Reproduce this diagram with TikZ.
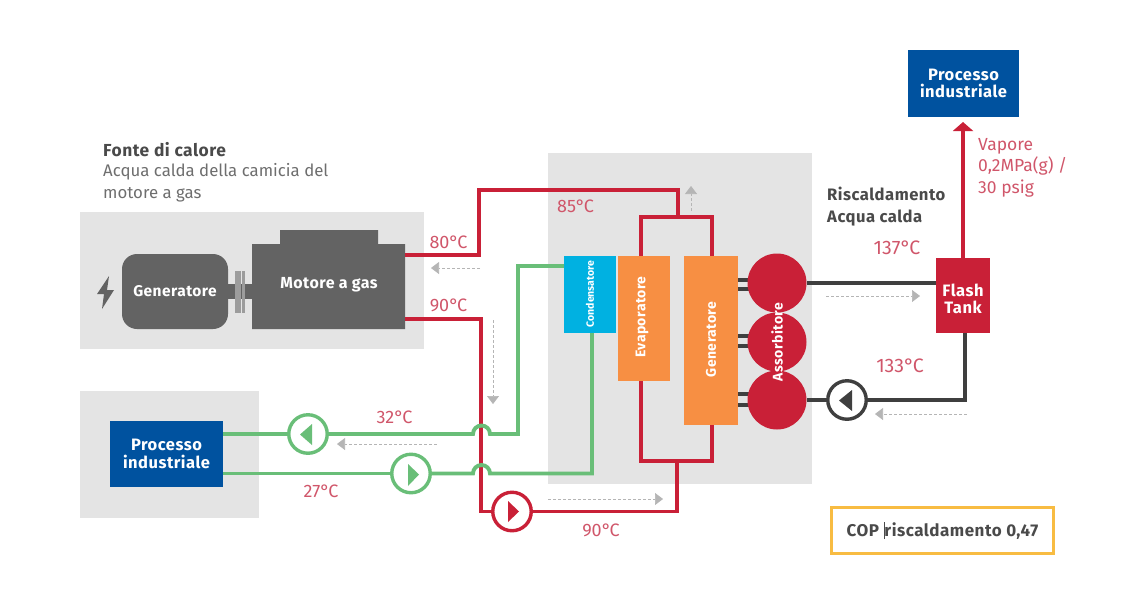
\documentclass[tikz,border=0pt]{standalone}
\usepackage{fontspec}
\setmainfont{Fira Sans}
\newfontfamily\spaced{Fira Sans}[LetterSpace=3]
\usetikzlibrary{arrows.meta}
\definecolor{panel}{HTML}{E4E4E4}
\definecolor{dk}{HTML}{636363}
\definecolor{pipeblack}{HTML}{3F3F3F}
\definecolor{rd}{HTML}{C92037}
\definecolor{rdtext}{HTML}{D0566A}
\definecolor{grn}{HTML}{69BE78}
\definecolor{blu}{HTML}{00529F}
\definecolor{cya}{HTML}{00B1E1}
\definecolor{org}{HTML}{F78F43}
\definecolor{yel}{HTML}{F8BC42}
\definecolor{txt}{HTML}{4A4A4A}
\definecolor{txtg}{HTML}{6E6E6E}
\definecolor{flow}{HTML}{B5B5B5}
\newcommand{\dg}{°\kern-1.5pt}
\tikzset{
 x=1pt,y=-1pt,
 blockbox/.style={draw=none,align=center,text=white,inner sep=0pt,font=\fontsize{16.5}{17.5}\spaced\bfseries},
 vlabel/.style={rotate=90,text=white,inner sep=0pt,font=\fontsize{14}{15}\spaced\bfseries},
 temp/.style={text=rdtext,font=\fontsize{18}{20}\selectfont,inner sep=0pt},
 temphi/.style={text=rdtext,font=\fontsize{19.5}{20}\selectfont,inner sep=0pt},
 redpipe/.style={draw=rd,line width=4.2pt},
 redthin/.style={draw=rd,line width=3.2pt},
 grnpipe/.style={draw=grn,line width=3.9pt},
 blkpipe/.style={draw=pipeblack,line width=3.6pt},
 pumpc/.style={circle,fill=white,line width=3.4pt,minimum size=38.5pt,inner sep=0pt},
 flowarrow/.style={draw=flow,line width=0.7pt,densely dashed,-{Triangle[length=8pt,width=12pt,fill=flow]}},
}
\begin{document}
\begin{tikzpicture}
\useasboundingbox (0,0) rectangle (1140,600);
% panels
\fill[panel] (80,212) rectangle (424,349);
\fill[panel] (80,391) rectangle (259,518);
\fill[panel] (548,153) rectangle (812,484);
% heading text
\node[anchor=west,inner sep=0pt,text=txt,font=\fontsize{17.4}{20}\spaced\bfseries] (h1) at (103,150) {Fonte di calore};
\node[anchor=north west,inner sep=0pt,text=txtg,align=left,font=\fontsize{16.8}{22}\selectfont] (h2) at (103,163) {Acqua calda della camicia del\\motore a gas};
\node[anchor=north west,inner sep=0pt,text=txt,align=left,font=\fontsize{16.6}{22}\spaced\bfseries] (h3) at (827,187) {Riscaldamento\\Acqua calda};
% engine group
\fill[dk] (228,284) rectangle (252,299);
\fill[flow!70!dk] (235,271) rectangle (241,313);
\fill[flow!70!dk] (242,271) rectangle (245,313);
\node[blockbox,fill=dk,rounded corners=15pt,minimum width=106pt,minimum height=75pt,font=\fontsize{15.5}{17}\spaced\bfseries] (gen) at (175,291.5) {Generatore};
\fill[dk] (252,244) -- (280,244) -- (280,230) -- (378,230) -- (378,244) -- (405,244) -- (405,329) -- (252,329) -- cycle;
\coordinate (motE1) at (405,255);
\coordinate (motE2) at (405,319);
\node[text=white,inner sep=0pt,font=\fontsize{16}{17}\spaced\bfseries] (mot) at (329,285) {Motore a gas};
\fill[dk] (109,276) -- (97,294) -- (104,294) -- (102,309) -- (114,290) -- (107,290) -- cycle;
% blocks
\node[blockbox,fill=blu,minimum width=113pt,minimum height=66pt] (procL) at (166.5,454) {Processo\\industriale};
\node[blockbox,fill=blu,minimum width=111pt,minimum height=67pt] (procT) at (963.5,83.5) {Processo\\industriale};
% red pipes
\draw[redpipe] (641,256) -- (641,217) -- (712,217) -- (712,256);
\draw[redpipe] (641,381) -- (641,461) -- (712,461) -- (712,425);
\draw[redthin] (motE1) -- (479,255) -- (479,190) -- (678,190) -- (678,217);
\node[pumpc,draw=rd] (pumpR) at (512,511.5) {};
\draw[redthin] (motE2) -- (481,319) -- (481,511.5) -- (pumpR);
\draw[redthin] (pumpR) -- (677,511.5) -- (677,461);
\fill[rd] (508,501) -- (519,511.5) -- (508,522) -- cycle;
% green pipes
\node[pumpc,draw=grn] (pumpG1) at (308,434) {};
\node[pumpc,draw=grn] (pumpG2) at (411,473.5) {};
\fill[grn] (312,424) -- (300,434.5) -- (312,445) -- cycle;
\fill[grn] (408,464) -- (419,474.5) -- (408,486) -- cycle;
\node[blockbox,fill=cya,minimum width=52pt,minimum height=77pt] (cond) at (590,294.5) {};
\node[vlabel,font=\fontsize{10.5}{12}\selectfont\bfseries] at (590,294) {Condensatore};
\draw[grnpipe] (procL.east |- pumpG1) -- (pumpG1);
\draw[grnpipe] (pumpG1) -- (473,434) arc[start angle=180,end angle=360,radius=8.5] -- (518,434) -- (518,266) -- (cond.west |- 0,266);
\draw[grnpipe] (procL.east |- pumpG2) -- (pumpG2);
\draw[grnpipe] (pumpG2) -- (473,473.5) arc[start angle=180,end angle=360,radius=8.5] -- (592,473.5) -- (592,333);
% orange
\node[blockbox,fill=org,minimum width=52pt,minimum height=125pt] (evap) at (644,318.5) {};
\node[vlabel] at (642,317) {Evaporatore};
\node[blockbox,fill=org,minimum width=54pt,minimum height=169pt] (gnr) at (711,340.5) {};
\node[vlabel] at (711,339.5) {Generatore};
% double links
\foreach \a/\b in {280/289,336/346,394/405}{
  \draw[pipeblack,line width=3.4pt] (738,\a) -- (750,\a);
  \draw[pipeblack,line width=3.4pt] (738,\b) -- (750,\b);
}
% absorber
\node[circle,fill=rd,minimum size=59pt,inner sep=0pt] (a1) at (777,283) {};
\node[circle,fill=rd,minimum size=59pt,inner sep=0pt] (a2) at (777,342) {};
\node[circle,fill=rd,minimum size=59pt,inner sep=0pt] (a3) at (777,400) {};
\node[vlabel] at (777,342) {Assorbitore};
% flash tank
\node[blockbox,fill=rd,minimum width=54pt,minimum height=75pt] (flash) at (963,295.5) {};
\node[align=center,text=white,inner sep=0pt,font=\fontsize{16.5}{17.5}\spaced\bfseries] at (963,299) {Flash\\Tank};
\draw[blkpipe] (a1.east) -- (flash.west |- a1.east);
\node[pumpc,draw=pipeblack] (pumpB) at (847,400) {};
\draw[blkpipe] (a3.east) -- (pumpB);
\draw[blkpipe] (pumpB) -- (965,400) -- (965,333);
\fill[pipeblack] (852,390) -- (839,400.5) -- (852,411) -- cycle;
\draw[draw=rd,line width=3.8pt,-{Triangle[length=9pt,width=20pt,fill=rd]}] (flash.north) -- (963,122);
% flow arrows
\coordinate (f1a) at (480,268); \coordinate (f1b) at (431,268);
\draw[flowarrow] (f1a) -- (f1b);
\coordinate (f2a) at (493,320); \coordinate (f2b) at (493,404);
\draw[flowarrow] (f2a) -- (f2b);
\coordinate (f3a) at (437,444); \coordinate (f3b) at (337,444);
\draw[flowarrow] (f3a) -- (f3b);
\coordinate (f4a) at (548,499); \coordinate (f4b) at (663,499);
\draw[flowarrow] (f4a) -- (f4b);
\coordinate (f5a) at (691,211); \coordinate (f5b) at (691,186);
\draw[flowarrow] (f5a) -- (f5b);
\coordinate (f6a) at (826,296); \coordinate (f6b) at (920,296);
\draw[flowarrow] (f6a) -- (f6b);
\coordinate (f7a) at (967,414); \coordinate (f7b) at (875,414);
\draw[flowarrow] (f7a) -- (f7b);
% temps
\node[temp] at (448.5,242) {80\dg C};
\node[temp] at (448.5,305) {90\dg C};
\node[temp] at (575.5,206) {85\dg C};
\node[temp] at (394.5,417) {32\dg C};
\node[temp] at (321,491) {27\dg C};
\node[temp] at (601,530) {90\dg C};
\node[temphi] at (897,248) {137\dg C};
\node[temphi] at (900,366) {133\dg C};
\node[temp,anchor=north west,align=left,font=\fontsize{17.5}{21.5}\selectfont] at (978,138) {Vapore\\0,2MPa(g) /\\30 psig};
% COP
\node[draw=yel,line width=2.6pt,minimum width=222pt,minimum height=46pt,text=txt,inner sep=0pt,font=\fontsize{17}{20}\spaced\bfseries] (cop) at (942.5,530.5) {COP \rule[-3pt]{0.8pt}{17pt}riscaldamento 0,47};
\end{tikzpicture}
\end{document}
